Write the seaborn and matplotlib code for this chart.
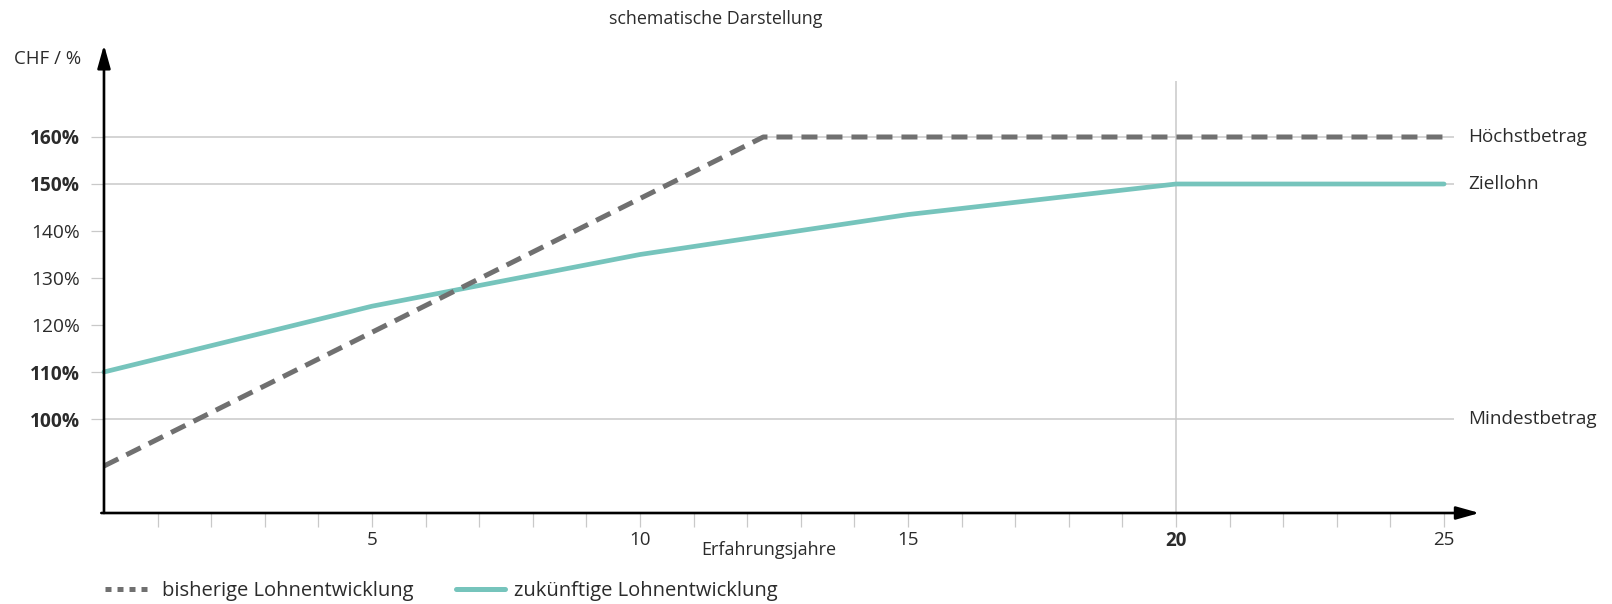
import numpy as np
import pandas as pd
import matplotlib
matplotlib.use("Agg")
import matplotlib.pyplot as plt
from matplotlib.lines import Line2D
import seaborn as sns

# Daten
jahre_alt = [0, 12.3, 25]
lohn_alt = [90, 160, 160]

jahre_neu = [0, 5, 10, 15, 20, 25]
lohn_neu = [110, 124, 135, 143.5, 150, 150]

y_ticks = [100, 110, 120, 130, 140, 150, 160]
y_bold = [100, 110, 150, 160]
x_major = [5, 10, 15, 20, 25]
x_minor = list(range(1, 26))

referenz_linien = [160, 150, 100]
referenz_namen = ["Höchstbetrag", "Ziellohn", "Mindestbetrag"]

grau = "#707070"
tuerkis = "#76c4bc"
gitter = "#c9c9c9"
text = "#2b2b2b"

sns.set_style("white")
plt.rcParams["font.family"] = ["Open Sans", "DejaVu Sans"]

fig = plt.figure(figsize=(16.12, 6.04), dpi=100)
ax = fig.add_axes([0.05453, 0.15066, 0.8679, 0.77815])
ax.set_xlim(-0.3, 25.8)
ax.set_ylim(80, 180)

# Referenzlinien + Jahr 20
ax.hlines(referenz_linien, 0, 25.19, color=gitter, lw=1.1, zorder=1)
ax.vlines(20, 80, 172, color=gitter, lw=1.1, zorder=1)

df_alt = pd.DataFrame({"jahr": jahre_alt, "lohn": lohn_alt})
df_neu = pd.DataFrame({"jahr": jahre_neu, "lohn": lohn_neu})

sns.lineplot(data=df_neu, x="jahr", y="lohn", ax=ax, color=tuerkis,
             linewidth=3.4, legend=False, zorder=3)
sns.lineplot(data=df_alt, x="jahr", y="lohn", ax=ax, color=grau,
             linewidth=3.6, linestyle=(0, (3.2, 1.8)), legend=False, zorder=4)

# Achsen mit Pfeilen
for s in ax.spines.values():
    s.set_visible(False)
ax.spines["left"].set_position(("data", 0))
ax.spines["bottom"].set_position(("data", 80))
pfeil = dict(arrowstyle="-|>,head_length=1.0,head_width=0.28", color="black",
             lw=1.9, shrinkA=0, shrinkB=0, mutation_scale=14)
ax.annotate("", xy=(0, 179.6), xytext=(0, 80), arrowprops=pfeil, zorder=5,
            annotation_clip=False)
ax.annotate("", xy=(25.66, 80), xytext=(-0.05, 80), arrowprops=pfeil, zorder=5,
            annotation_clip=False)

ax.set_yticks(y_ticks)
ax.set_yticklabels([f"{v}%" for v in y_ticks])
for lab, v in zip(ax.get_yticklabels(), y_ticks):
    if v in y_bold:
        lab.set_fontweight("bold")
ax.tick_params(axis="y", length=9.4, width=0.9, color=gitter, pad=8,
               labelsize=13.8, labelcolor=text, left=True)

ax.set_xticks(x_major)
ax.set_xticks(x_minor, minor=True)
ax.set_xticklabels([str(v) for v in x_major])
for lab, v in zip(ax.get_xticklabels(), x_major):
    if v == 20:
        lab.set_fontweight("bold")
ax.tick_params(axis="x", which="both", length=10, width=0.9, color=gitter,
               pad=3, labelsize=13.5, labelcolor=text, bottom=True)
ax.set_xlabel("")
ax.set_ylabel("")

for y, name in zip(referenz_linien, referenz_namen):
    ax.text(25.45, y, name, va="center", ha="left", fontsize=13.6, color=text)

fig.text(716 / 1612, 1 - 19 / 604, "schematische Darstellung", ha="center",
         va="center", fontsize=12.9, color=text)
fig.text(81 / 1612, 1 - 59 / 604, "CHF / %", ha="right", va="center",
         fontsize=13.4, color=text)
fig.text(769 / 1612, 1 - 550 / 604, "Erfahrungsjahre", ha="center",
         va="center", fontsize=13, color=text)

handles = [
    Line2D([], [], color=grau, lw=3.6, linestyle=(0, (1.2, 1.2))),
    Line2D([], [], color=tuerkis, lw=3.6),
]
fig.legend(handles, ["bisherige Lohnentwicklung", "zukünftige Lohnentwicklung"],
           loc="center left", bbox_to_anchor=(105 / 1612, 1 - 591 / 604),
           ncol=2, frameon=False, fontsize=14.5, handlelength=2.4,
           handletextpad=0.45, columnspacing=2.1, borderpad=0,
           borderaxespad=0, labelcolor=text)

fig.savefig("out.png", dpi=100)
